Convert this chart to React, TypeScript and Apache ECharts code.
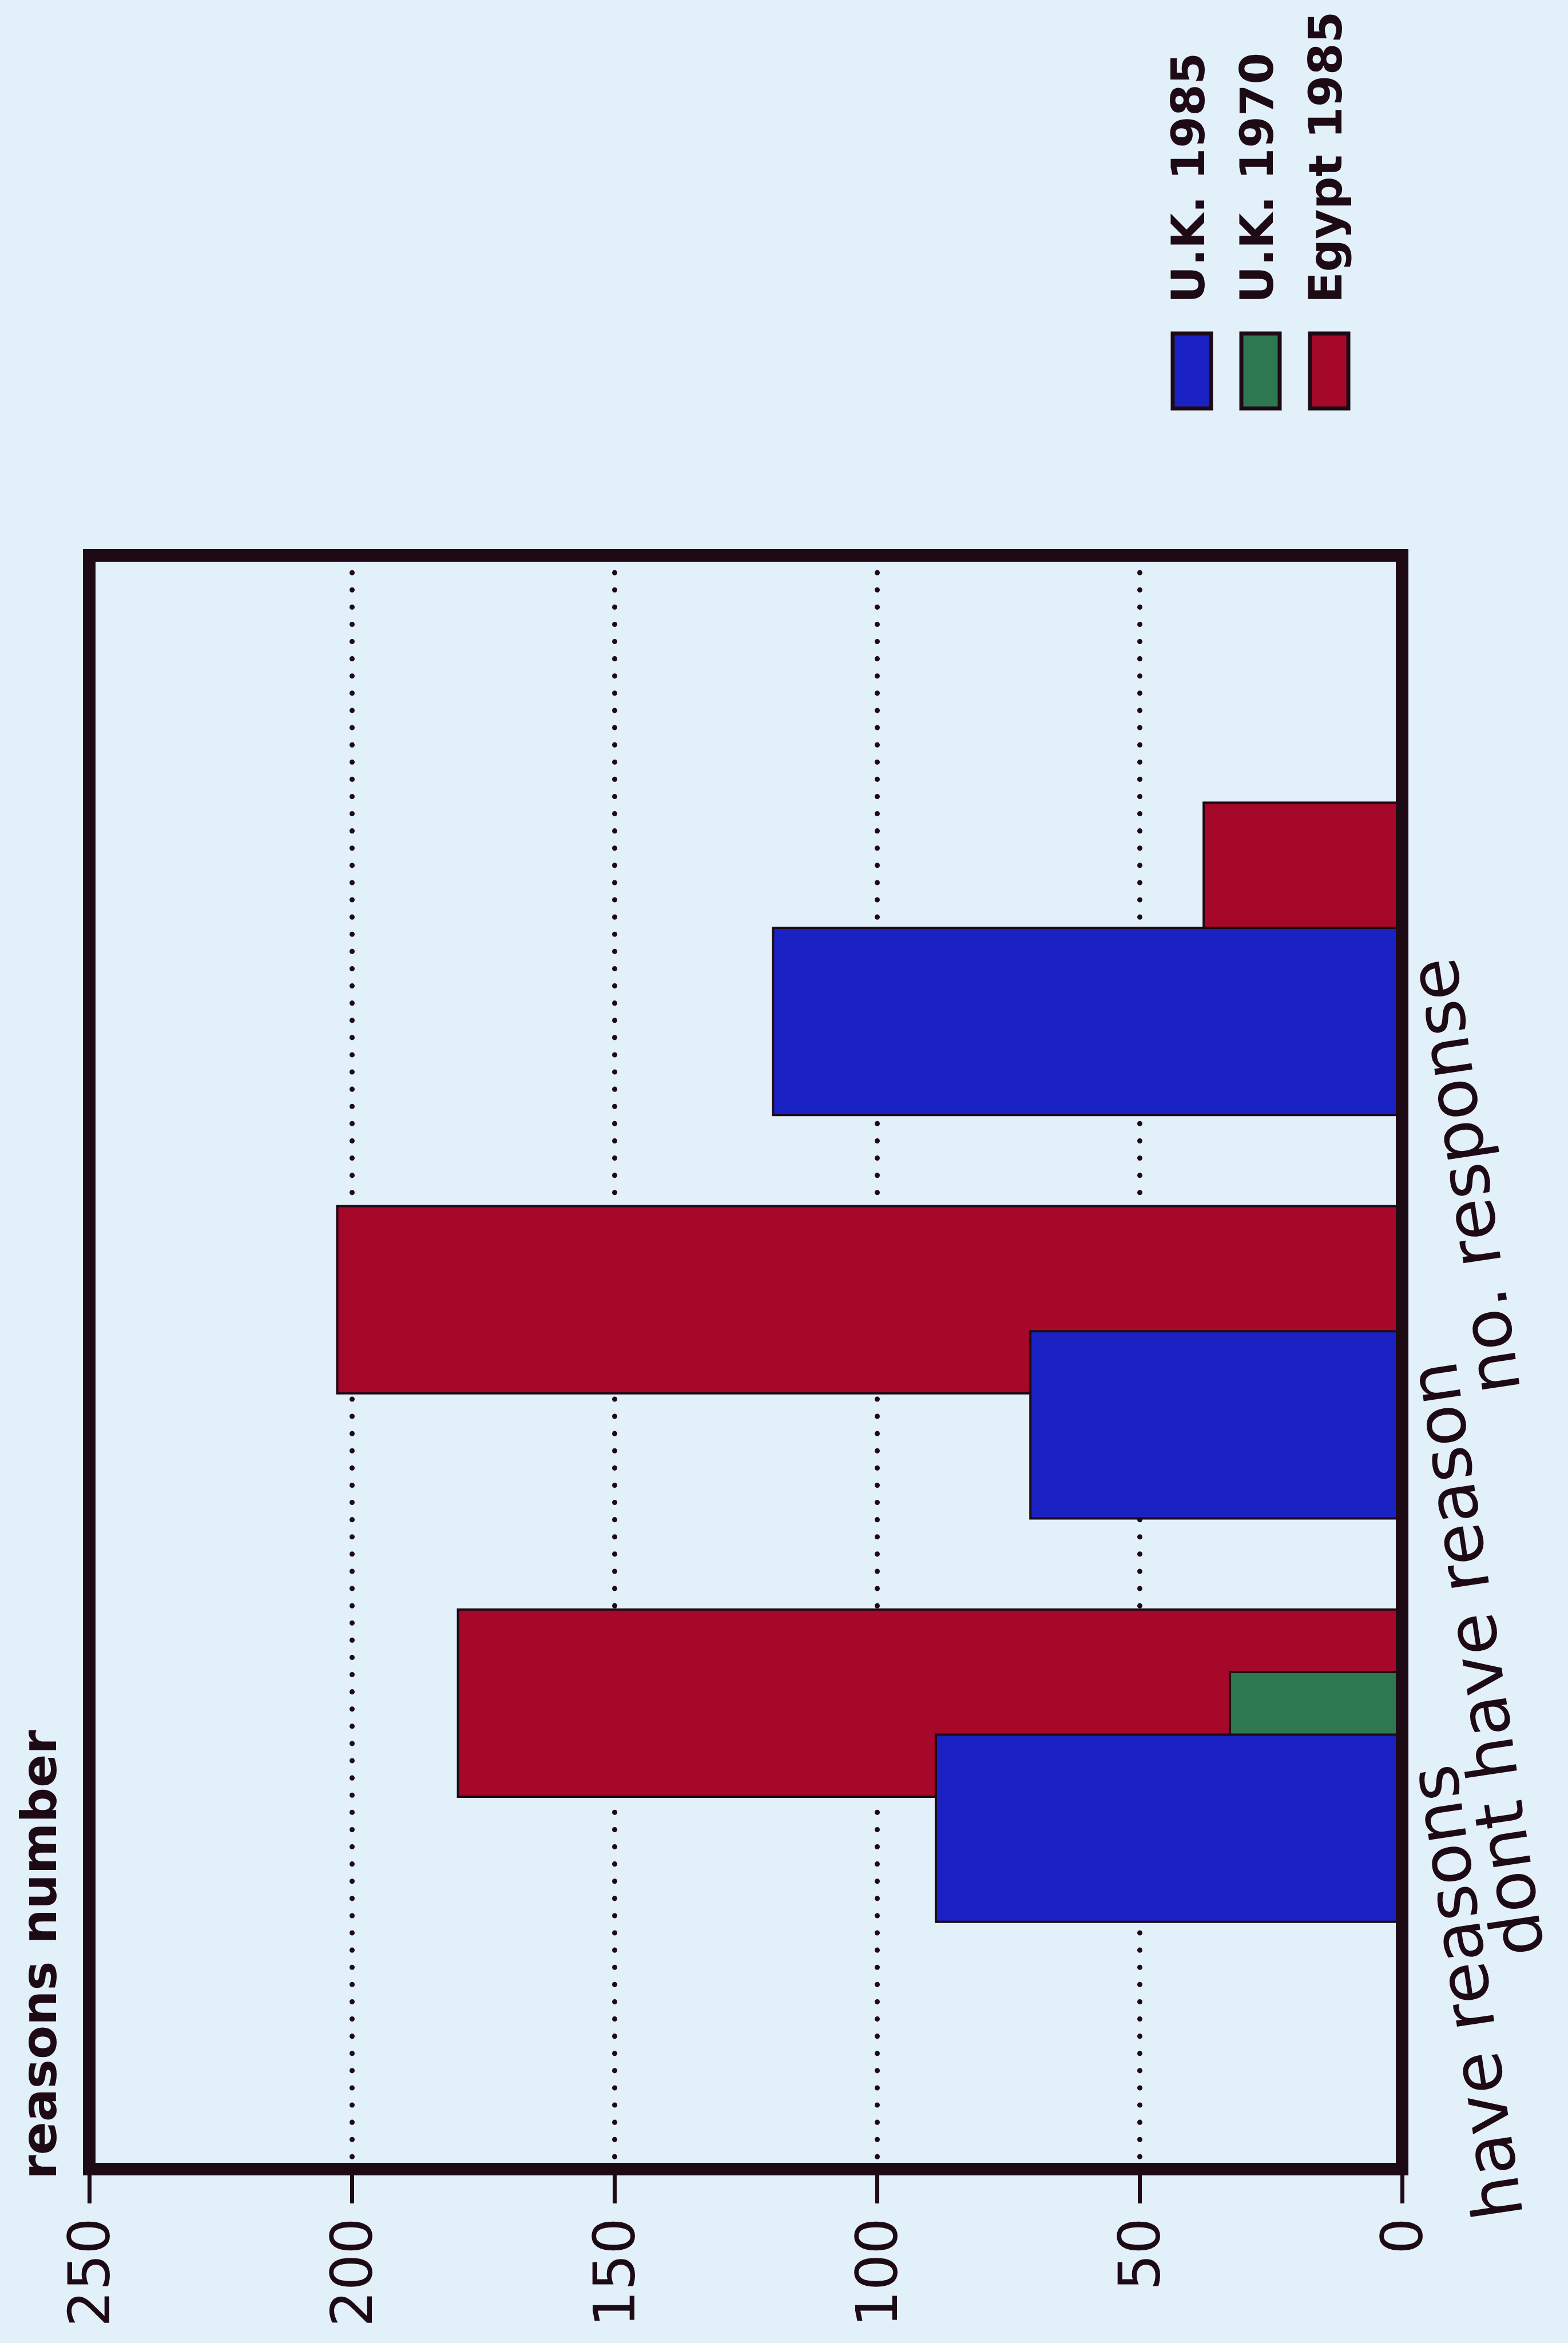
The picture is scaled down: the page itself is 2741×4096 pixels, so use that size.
import React, { useEffect, useRef } from "react";
import * as echarts from "echarts";

// Survey answers grouped by response type
const categories = ["have reasons", "dont have reason", "no. response"];
const seriesNames = ["U.K. 1985", "U.K. 1970", "Egypt 1985"];
const ukRecent = [89, 71, 120];
const ukEarlier = [33, 0, 0];
const egypt = [180, 203, 38];
const valueTicks = [0, 50, 100, 150, 200, 250];
const axisTitle = "reasons number";

const PAPER = "#e2f0fa";
const INK = "#1e0a14";
const BLUE = "#1a22c4";
const GREEN = "#2d7850";
const RED = "#a50828";
const seriesColors = [BLUE, GREEN, RED];

// Empty slots above and below keep the three groups at the quarter marks of the frame.
const pad = (values: number[]) => [null, ...values, null];

export default function App() {
  const ref = useRef<HTMLDivElement>(null);

  useEffect(() => {
    if (!ref.current) return;
    const chart = echarts.init(ref.current, null, { renderer: "svg" });

    const swatchLeft = [2050, 2170, 2290];
    const legendGraphics: any[] = [];
    seriesNames.forEach((name, i) => {
      legendGraphics.push({
        type: "rect",
        shape: { x: swatchLeft[i], y: 583, width: 67, height: 131 },
        style: { fill: seriesColors[i], stroke: INK, lineWidth: 7 },
        z: 20,
      });
      legendGraphics.push({
        type: "text",
        x: swatchLeft[i] + 27,
        y: 530,
        rotation: Math.PI / 2,
        style: {
          text: name,
          fontFamily: "DejaVu Sans",
          fontWeight: "bold",
          fontSize: 80,
          fill: INK,
          align: "left",
          verticalAlign: "middle",
        },
        z: 20,
      });
    });

    const barStyle = (color: string) => ({
      color,
      borderColor: INK,
      borderWidth: 4,
    });

    chart.setOption({
      animation: false,
      backgroundColor: PAPER,
      grid: {
        left: 156,
        top: 971,
        width: 2295,
        height: 2821,
        show: true,
        borderColor: INK,
        borderWidth: 22,
        backgroundColor: "transparent",
        z: 5,
        containLabel: false,
        outerBoundsMode: "none",
      },
      xAxis: {
        type: "value",
        inverse: true,
        min: valueTicks[0],
        max: valueTicks[valueTicks.length - 1],
        interval: valueTicks[1] - valueTicks[0],
        position: "bottom",
        axisLine: { show: false },
        axisTick: { show: true, length: 60, lineStyle: { color: INK, width: 7 } },
        axisLabel: {
          rotate: 90,
          margin: 85,
          fontFamily: "DejaVu Sans",
          fontSize: 100,
          color: INK,
        },
        splitLine: {
          show: true,
          lineStyle: { color: INK, width: 9, type: [0.1, 30], cap: "round" },
        },
      },
      yAxis: {
        type: "category",
        position: "right",
        boundaryGap: false,
        data: ["", ...categories, ""],
        axisLine: { show: false },
        axisTick: { show: false },
        splitLine: { show: false },
        axisLabel: {
          interval: 0,
          rotate: 98.5,
          align: "right",
          verticalAlign: "middle",
          margin: 52,
          fontFamily: "DejaVu Sans",
          fontSize: 120,
          color: INK,
        },
      },
      graphic: [
        ...legendGraphics,
        {
          type: "text",
          x: 68,
          y: 3810,
          rotation: Math.PI / 2,
          style: {
            text: axisTitle,
            fontFamily: "DejaVu Sans",
            fontWeight: "bold",
            fontSize: 86,
            fill: INK,
            align: "left",
            verticalAlign: "middle",
          },
          z: 20,
        },
      ],
      series: [
        {
          name: seriesNames[2],
          type: "bar",
          data: pad(egypt),
          barWidth: "47%",
          barGap: "-67%",
          itemStyle: barStyle(RED),
          z: 2,
        },
        {
          name: seriesNames[1],
          type: "bar",
          data: pad(ukEarlier),
          barWidth: "47%",
          barGap: "-67%",
          itemStyle: barStyle(GREEN),
          z: 3,
        },
        {
          name: seriesNames[0],
          type: "bar",
          data: pad(ukRecent),
          barWidth: "47%",
          barGap: "-67%",
          itemStyle: barStyle(BLUE),
          z: 4,
        },
      ],
    });

    return () => chart.dispose();
  }, []);

  return (
    <div
      ref={ref}
      style={{
        position: "absolute",
        left: 0,
        top: 0,
        width: 2741,
        height: 4096,
        background: PAPER,
      }}
    />
  );
}
